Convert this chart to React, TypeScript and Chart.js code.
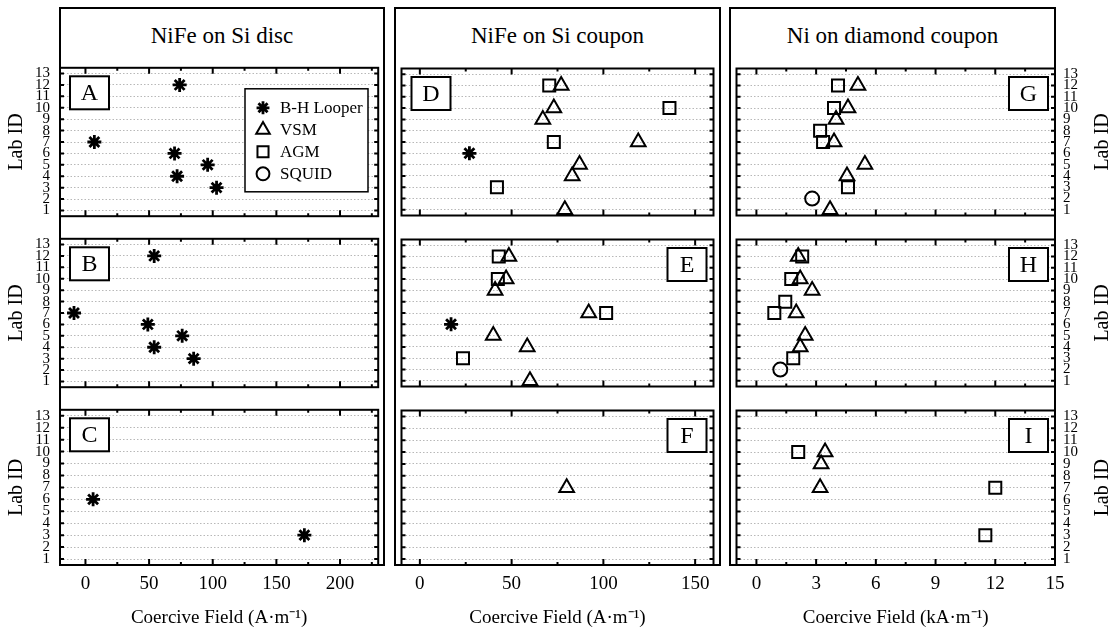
import React, { useEffect, useRef } from 'react';
import { Chart, registerables } from 'chart.js';
import { drawPoint } from 'chart.js/helpers';

Chart.register(...registerables);

// ---------------- data ----------------
const COLUMN_TITLES = ['NiFe on Si disc', 'NiFe on Si coupon', 'Ni on diamond coupon'];
const X_TITLES = ['Coercive Field (A·m⁻¹)', 'Coercive Field (A·m⁻¹)', 'Coercive Field (kA·m⁻¹)'];
const X_MIN = [-20, -10, -1];
const X_MAX = [230, 160, 15];
const X_TICKS_DISC = [0, 25, 50, 75, 100, 125, 150, 175, 200, 225];
const X_TICKS_COUPON = [0, 25, 50, 75, 100, 125, 150];
const X_TICKS_DIAMOND = [0, 1.5, 3, 4.5, 6, 7.5, 9, 10.5, 12, 13.5, 15];
const X_LABEL_EVERY = [50, 50, 3];
const LAB_IDS = [1, 2, 3, 4, 5, 6, 7, 8, 9, 10, 11, 12, 13];
const METHODS = ['B-H Looper', 'VSM', 'AGM', 'SQUID'];

const A_BH_ID = [12, 7, 6, 5, 4, 3];
const A_BH_HC = [74, 7, 70, 96, 72, 103];
const B_BH_ID = [12, 7, 6, 5, 4, 3];
const B_BH_HC = [54, -9, 49, 76, 54, 85];
const C_BH_ID = [6, 3];
const C_BH_HC = [6, 172];

const D_BH_ID = [6];
const D_BH_HC = [27];
const D_VSM_ID = [12, 10, 9, 7, 5, 4, 1];
const D_VSM_HC = [77, 73, 67, 119, 87, 83, 79];
const D_AGM_ID = [12, 10, 7, 3];
const D_AGM_HC = [70.5, 136, 73, 42];
const E_BH_ID = [6];
const E_BH_HC = [17];
const E_VSM_ID = [12, 10, 9, 7, 5, 4, 1];
const E_VSM_HC = [48.5, 47, 41, 92, 40, 58.5, 60];
const E_AGM_ID = [12, 10, 7, 3];
const E_AGM_HC = [43, 42.5, 101.5, 23.5];
const F_VSM_ID = [7];
const F_VSM_HC = [80];

const G_VSM_ID = [12, 10, 9, 7, 5, 4, 1];
const G_VSM_HC = [5.1, 4.6, 4.0, 3.9, 5.45, 4.55, 3.7];
const G_AGM_ID = [12, 10, 8, 7, 3];
const G_AGM_HC = [4.1, 3.9, 3.2, 3.35, 4.6];
const G_SQ_ID = [2];
const G_SQ_HC = [2.8];
const H_VSM_ID = [12, 10, 9, 7, 5, 4];
const H_VSM_HC = [2.1, 2.2, 2.8, 2.0, 2.45, 2.2];
const H_AGM_ID = [12, 10, 8, 7, 3];
const H_AGM_HC = [2.3, 1.75, 1.45, 0.9, 1.85];
const H_SQ_ID = [2];
const H_SQ_HC = [1.2];
const I_VSM_ID = [10, 9, 7];
const I_VSM_HC = [3.45, 3.25, 3.2];
const I_AGM_ID = [10, 7, 3];
const I_AGM_HC = [2.1, 12.0, 11.5];

// ---------------- layout / style ----------------
const FAMILY = '"Liberation Serif", "Times New Roman", serif';
const PAD = 4;
const W = 1114;
const H = 633;
const COLS = [
  { left: 60, right: 384 },
  { left: 395, right: 720 },
  { left: 730, right: 1055 },
];
const ROWS = [
  { top: 62, bottom: 222 },
  { top: 233, bottom: 393 },
  { top: 404, bottom: 565 },
];
const X_TICKS = [X_TICKS_DISC, X_TICKS_COUPON, X_TICKS_DIAMOND];
const METHOD_STYLE = [
  { pointStyle: 'star', radius: 7, borderWidth: 2.8 },
  { pointStyle: 'triangle', radius: 8.5, borderWidth: 2 },
  { pointStyle: 'rect', radius: 8.5, borderWidth: 2 },
  { pointStyle: 'circle', radius: 7, borderWidth: 2 },
];

const PANELS = [
  { letter: 'A', col: 0, row: 0, side: 'left', legend: true, series: [[0, A_BH_ID, A_BH_HC]] },
  { letter: 'B', col: 0, row: 1, side: 'left', series: [[0, B_BH_ID, B_BH_HC]] },
  { letter: 'C', col: 0, row: 2, side: 'left', series: [[0, C_BH_ID, C_BH_HC]] },
  { letter: 'D', col: 1, row: 0, side: 'left', series: [[0, D_BH_ID, D_BH_HC], [1, D_VSM_ID, D_VSM_HC], [2, D_AGM_ID, D_AGM_HC]] },
  { letter: 'E', col: 1, row: 1, side: 'right', series: [[0, E_BH_ID, E_BH_HC], [1, E_VSM_ID, E_VSM_HC], [2, E_AGM_ID, E_AGM_HC]] },
  { letter: 'F', col: 1, row: 2, side: 'right', series: [[1, F_VSM_ID, F_VSM_HC]] },
  { letter: 'G', col: 2, row: 0, side: 'right', series: [[1, G_VSM_ID, G_VSM_HC], [2, G_AGM_ID, G_AGM_HC], [3, G_SQ_ID, G_SQ_HC]] },
  { letter: 'H', col: 2, row: 1, side: 'right', series: [[1, H_VSM_ID, H_VSM_HC], [2, H_AGM_ID, H_AGM_HC], [3, H_SQ_ID, H_SQ_HC]] },
  { letter: 'I', col: 2, row: 2, side: 'right', series: [[1, I_VSM_ID, I_VSM_HC], [2, I_AGM_ID, I_AGM_HC]] },
];

const isMajor = (v: number, every: number) => Math.abs(v / every - Math.round(v / every)) < 1e-9;

const decoPlugin = {
  id: 'panelDeco',
  afterDatasetsDraw(chart: any, _args: any, opts: any) {
    const { ctx, chartArea } = chart;
    const { left, right, top, bottom } = chartArea;
    const xs = chart.scales.x;
    const ys = chart.scales.y;
    ctx.save();
    ctx.strokeStyle = '#000';
    ctx.lineWidth = 2;
    ctx.beginPath();
    xs.ticks.forEach((t: any) => {
      const px = xs.getPixelForValue(t.value);
      const len = isMajor(t.value, opts.labelEvery) ? 6 : 3;
      ctx.moveTo(px, top);
      ctx.lineTo(px, top + len);
      ctx.moveTo(px, bottom);
      ctx.lineTo(px, bottom - len);
    });
    ys.ticks.forEach((t: any) => {
      const py = ys.getPixelForValue(t.value);
      ctx.moveTo(left, py);
      ctx.lineTo(left + 4, py);
      ctx.moveTo(right, py);
      ctx.lineTo(right - 4, py);
    });
    ctx.stroke();
    ctx.strokeRect(left, top, right - left, bottom - top);
    ctx.restore();
  },
  afterDraw(chart: any, _args: any, opts: any) {
    const { ctx, chartArea } = chart;
    const { left, right, top, bottom } = chartArea;
    ctx.save();
    // panel letter box
    const bw = 39;
    const bh = 33;
    const bx = opts.side === 'left' ? left + 10 : right - 46;
    const by = top + 8.5;
    ctx.fillStyle = '#fff';
    ctx.fillRect(bx, by, bw, bh);
    ctx.strokeStyle = '#000';
    ctx.lineWidth = 2;
    ctx.strokeRect(bx, by, bw, bh);
    ctx.fillStyle = '#000';
    ctx.font = `24px ${FAMILY}`;
    ctx.textAlign = 'center';
    ctx.textBaseline = 'middle';
    ctx.fillText(opts.letter, bx + bw / 2, by + bh / 2 + 1);

    // legend
    if (opts.legend) {
      const lx = left + 185;
      const ly = top + 21;
      const lw = 123;
      const lh = 103;
      ctx.fillStyle = '#fff';
      ctx.fillRect(lx, ly, lw, lh);
      ctx.lineWidth = 1.5;
      ctx.strokeRect(lx, ly, lw, lh);
      METHODS.forEach((name, i) => {
        const y = ly + 19 + i * 22;
        const st = METHOD_STYLE[i];
        ctx.lineWidth = st.borderWidth;
        ctx.strokeStyle = '#000';
        ctx.fillStyle = 'rgba(0,0,0,0)';
        drawPoint(ctx, { pointStyle: st.pointStyle, radius: st.radius * 0.92, rotation: 0, borderWidth: st.borderWidth }, lx + 18, y);
        ctx.fillStyle = '#000';
        ctx.font = `17px ${FAMILY}`;
        ctx.textAlign = 'left';
        ctx.textBaseline = 'middle';
        ctx.fillText(name, lx + 35, y + 1);
      });
    }

    // right-hand axis title
    if (opts.rightTitle) {
      ctx.translate(right + 48, (top + bottom) / 2);
      ctx.rotate(-Math.PI / 2);
      ctx.fillStyle = '#000';
      ctx.font = `20px ${FAMILY}`;
      ctx.textAlign = 'center';
      ctx.textBaseline = 'middle';
      ctx.fillText('Lab ID', 0, 0);
    }
    ctx.restore();
  },
};

function Panel({ spec }: { spec: any }) {
  const ref = useRef<HTMLCanvasElement>(null);
  const col = COLS[spec.col];
  const row = ROWS[spec.row];
  const first = spec.col === 0;
  const last = spec.col === 2;
  const bottomRow = spec.row === 2;
  const cl = first ? 0 : col.left - PAD;
  const cr = last ? W : col.right + PAD;
  const ct = row.top - PAD;
  const cb = bottomRow ? H : row.bottom + PAD;
  const cw = cr - cl;
  const ch = cb - ct;
  const yAxisW = first ? col.left - PAD - cl : last ? cr - PAD - col.right : 0;
  const xAxisH = bottomRow ? cb - PAD - row.bottom : 0;

  useEffect(() => {
    const every = X_LABEL_EVERY[spec.col];
    const datasets = spec.series.map(([m, ids, hc]: [number, number[], number[]]) => ({
      label: METHODS[m],
      data: ids.map((id, i) => ({ x: hc[i], y: id })),
      pointStyle: METHOD_STYLE[m].pointStyle,
      pointRadius: METHOD_STYLE[m].radius,
      pointBorderWidth: METHOD_STYLE[m].borderWidth,
      borderColor: '#000',
      backgroundColor: 'rgba(0,0,0,0)',
      pointBackgroundColor: 'rgba(0,0,0,0)',
      pointBorderColor: '#000',
      showLine: false,
    }));
    const chart = new Chart(ref.current as HTMLCanvasElement, {
      type: 'scatter',
      data: { datasets },
      options: {
        responsive: false,
        animation: false,
        events: [],
        layout: { padding: { left: PAD, right: PAD, top: PAD, bottom: PAD } },
        plugins: {
          legend: { display: false },
          tooltip: { enabled: false },
          panelDeco: {
            letter: spec.letter,
            side: spec.side,
            legend: !!spec.legend,
            rightTitle: last,
            labelEvery: every,
          },
        } as any,
        scales: {
          x: {
            type: 'linear',
            position: 'bottom',
            min: X_MIN[spec.col],
            max: X_MAX[spec.col],
            bounds: 'data',
            afterBuildTicks: (s: any) => {
              s.ticks = X_TICKS[spec.col].map((v) => ({ value: v }));
            },
            afterFit: (s: any) => {
              s.height = xAxisH;
              s.paddingLeft = 0;
              s.paddingRight = 0;
            },
            grid: { display: false, drawTicks: false },
            border: { display: false },
            ticks: {
              display: bottomRow,
              autoSkip: false,
              maxRotation: 0,
              minRotation: 0,
              padding: 8,
              color: '#000',
              font: { family: FAMILY, size: 19 },
              callback: (v: any) => (isMajor(Number(v), every) ? String(v) : ''),
            },
            title: {
              display: bottomRow,
              text: X_TITLES[spec.col],
              color: '#000',
              font: { family: FAMILY, size: 19 },
              padding: { top: 0, bottom: 0 },
            },
          },
          y: {
            type: 'linear',
            position: last ? 'right' : 'left',
            min: 0.5,
            max: 13.5,
            bounds: 'data',
            afterBuildTicks: (s: any) => {
              s.ticks = LAB_IDS.map((v) => ({ value: v }));
            },
            afterFit: (s: any) => {
              s.width = yAxisW;
              s.paddingTop = 0;
              s.paddingBottom = 0;
            },
            grid: { color: 'rgba(0,0,0,0.28)', lineWidth: 1, drawTicks: false },
            border: { display: false, dash: [1.5, 2] },
            ticks: {
              display: first || last,
              autoSkip: false,
              padding: first ? 10 : 8,
              color: '#000',
              font: { family: FAMILY, size: 15 },
              callback: (v: any) => String(v),
            },
            title: {
              display: first,
              text: 'Lab ID',
              color: '#000',
              font: { family: FAMILY, size: 20 },
              padding: { top: 1, bottom: 0 },
            },
          },
        },
      } as any,
      plugins: [decoPlugin as any],
    });
    return () => chart.destroy();
  }, []);

  return (
    <canvas
      ref={ref}
      width={cw}
      height={ch}
      style={{ position: 'absolute', left: cl, top: ct, width: cw, height: ch }}
    />
  );
}

export default function App() {
  return (
    <div style={{ position: 'absolute', left: 0, top: 0, width: W, height: H, background: '#fff', overflow: 'hidden' }}>
      {COLS.map((c, i) => (
        <div
          key={'col' + i}
          style={{
            position: 'absolute',
            left: c.left - 1,
            top: 7,
            width: c.right - c.left + 2,
            height: ROWS[2].bottom + 1 - 7,
            border: '2px solid #000',
            boxSizing: 'border-box',
          }}
        >
          <div
            style={{
              height: ROWS[0].top - 9,
              display: 'flex',
              alignItems: 'center',
              justifyContent: 'center',
              fontFamily: FAMILY,
              fontSize: 23,
              color: '#000',
            }}
          >
            {COLUMN_TITLES[i]}
          </div>
        </div>
      ))}
      {PANELS.map((p) => (
        <Panel key={p.letter} spec={p} />
      ))}
    </div>
  );
}
